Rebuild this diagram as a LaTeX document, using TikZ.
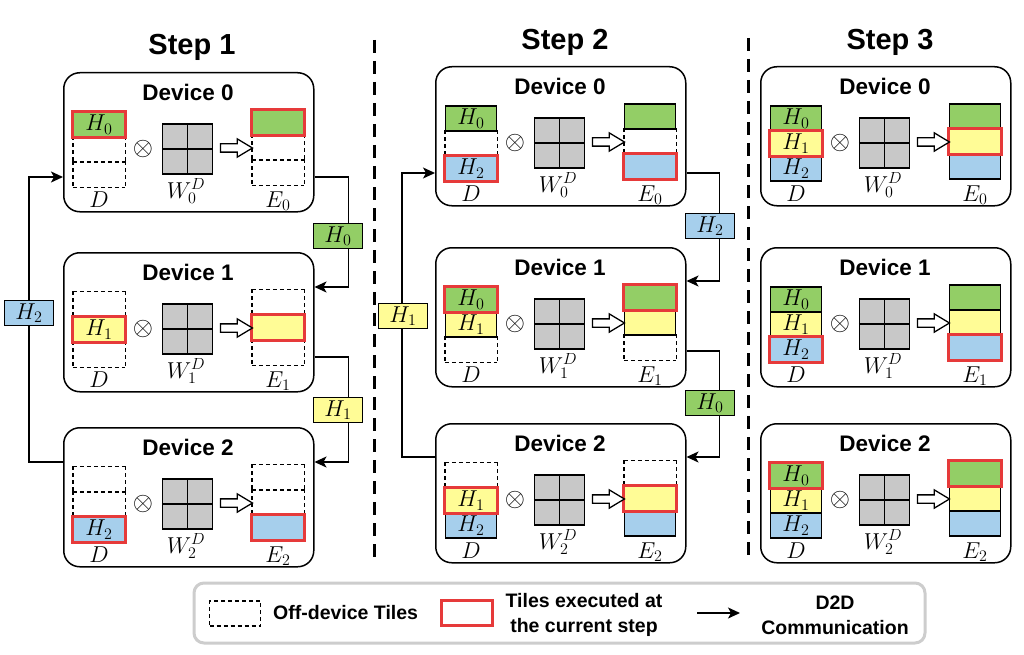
\RequirePackage{fix-cm}
\documentclass[tikz,border=0pt]{standalone}
\usepackage{fontspec}
\setsansfont{Liberation Sans}
\usepackage{xcolor}
\usepackage{tikz}
\usetikzlibrary{arrows.meta,shapes.arrows}

\definecolor{hgreen}{RGB}{147,206,102}
\definecolor{hyellow}{RGB}{255,252,150}
\definecolor{hblue}{RGB}{166,207,236}
\definecolor{hred}{RGB}{230,58,58}
\definecolor{wgray}{RGB}{200,200,200}
\definecolor{lgray}{RGB}{205,205,205}

\begin{document}
\begin{tikzpicture}[
			x = 1pt, y = -1pt,
			every node/.style = {inner sep = 0pt},
			steptitle/.style = {font = \sffamily\bfseries\fontsize{29}{34}\selectfont},
			devtitle/.style = {font = \sffamily\bfseries\fontsize{22.5}{26}\selectfont},
			device/.style = {draw, line width = 1.5pt, rounded corners = 16pt, minimum width = 250pt, minimum height = 139pt, anchor = north west},
			tile/.style = {draw, line width = 1.2pt, minimum width = 51pt, minimum height = 25pt, font = \fontsize{23}{26}\selectfont},
			tile-o/.style = {draw = none, fill = none, node contents = {}},
			tile-f/.style = {},
			tile-r/.style = {},
			edge-o/.style = {draw, line width = 1.2pt, dash pattern = on 4pt off 3pt},
			edge-f/.style = {},
			edge-r/.style = {},
			mark-o/.style = {},
			mark-f/.style = {},
			mark-r/.style = {draw = hred, line width = 3pt},
			wmat/.style = {draw, fill = wgray, line width = 1.5pt, minimum size = 50pt},
			fat/.style = {single arrow, draw, fill = white, line width = 1.3pt, inner sep = 3.5pt, minimum height = 32pt, single arrow head extend = 5pt, single arrow tip angle = 62},
			lab/.style = {font = \fontsize{23}{26}\selectfont, anchor = base},
			op/.style = {font = \fontsize{26}{30}\selectfont},
			link/.style = {line width = 1.4pt, -{Stealth[length = 12pt, width = 11pt, inset = 3pt]}},
			msg/.style = {draw, line width = 1.2pt, minimum width = 49pt, minimum height = 25pt, font = \fontsize{23}{26}\selectfont},
			sep/.style = {line width = 3pt, dash pattern = on 13pt off 8pt},
			legbox/.style = {draw = lgray, line width = 3pt, rounded corners = 10pt, minimum width = 731pt, minimum height = 60pt},
			leg/.style = {font = \sffamily\bfseries\fontsize{19.5}{25}\selectfont}
			]

			\useasboundingbox (0,0) rectangle (1024,655);

			% step titles and separators
			\node[steptitle] (st1) at (192,47) {Step 1};
			\node[steptitle] (st2) at (565,42) {Step 2};
			\node[steptitle] (st3) at (890,42) {Step 3};
			\draw[sep] (374,40) -- (374,563);
			\draw[sep] (748,38) -- (748,560);

			% devices: name/x/y/index/D tiles/E tiles (o = off, f = held, r = executed)
			\foreach \nm/\bx/\by/\k/\da/\db/\dc/\ea/\eb/\ec in {
					s1d0/63/72/0/r/o/o/r/o/o, s1d1/63/252/1/o/r/o/o/r/o, s1d2/63/427/2/o/o/r/o/o/r,
					s2d0/435/66/0/f/o/r/f/o/r, s2d1/435/247/1/r/f/o/r/f/o, s2d2/435/423/2/o/r/f/o/r/f,
					s3d0/760/66/0/f/r/f/f/r/f, s3d1/760/247/1/f/f/r/f/f/r, s3d2/760/423/2/r/f/f/r/f/f}
			{
				\node[device] (\nm) at (\bx,\by) {};
				\node[devtitle] (\nm-t) at (\bx+125,\by+20) {Device \k};

				\foreach \i/\s/\col in {0/\da/hgreen, 1/\db/hyellow, 2/\dc/hblue}
					\node (\nm-D\i) at (\bx+36,\by+52.5+25*\i) [tile, fill = \col, node contents = {$H_\i$}, tile-\s];
				\foreach \i/\s/\col in {0/\ea/hgreen, 1/\eb/hyellow, 2/\ec/hblue}
					\node (\nm-E\i) at (\bx+215,\by+50.5+25*\i) [tile, fill = \col, node contents = {}, tile-\s];
				% dashed edges of off-device tiles, all drawn in one direction
				\foreach \c/\i/\s in {D/0/\da, D/1/\db, D/2/\dc, E/0/\ea, E/1/\eb, E/2/\ec}
					\path[edge-\s] (\nm-\c\i.north west) -- (\nm-\c\i.north east)
						(\nm-\c\i.south west) -- (\nm-\c\i.south east)
						(\nm-\c\i.north west) -- (\nm-\c\i.south west)
						(\nm-\c\i.north east) -- (\nm-\c\i.south east);
				\foreach \c/\i/\s in {D/0/\da, D/1/\db, D/2/\dc, E/0/\ea, E/1/\eb, E/2/\ec}
					\path[mark-\s] (\nm-\c\i.south west) rectangle (\nm-\c\i.north east);

				\node[op] (\nm-x) at (\bx+80,\by+77) {$\otimes$};
				\node[wmat] (\nm-W) at (\bx+124.5,\by+77) {};
				\draw[line width = 1.5pt] (\nm-W.north) -- (\nm-W.south) (\nm-W.west) -- (\nm-W.east);
				\node[fat] (\nm-a) at (\bx+170,\by+76) {};

				\node[lab] (\nm-Dl) at (\bx+36,\by+135) {$D$};
				\node[lab] (\nm-Wl) at (\bx+123,\by+126) {$W_\k^D$};
				\node[lab] (\nm-El) at (\bx+215,\by+135) {$E_\k$};
			}

			% step 1 transfers
			\draw[link] ([yshift = -105pt]s1d0.north east) -- ++(34,0) |- ([yshift = -35pt]s1d1.north east);
			\draw[link] ([yshift = -105pt]s1d1.north east) -- ++(34,0) |- ([yshift = -35pt]s1d2.north east);
			\draw[link] ([yshift = -35pt]s1d2.north west) -- ++(-34,0) |- ([yshift = -105pt]s1d0.north west);
			\node[msg, fill = hgreen] (s1m0) at (338,236) {$H_0$};
			\node[msg, fill = hyellow] (s1m1) at (338,410) {$H_1$};
			\node[msg, fill = hblue] (s1m2) at (29,313) {$H_2$};

			% step 2 transfers
			\draw[link] ([yshift = -107pt]s2d0.north east) -- ++(33,0) |- ([yshift = -34pt]s2d1.north east);
			\draw[link] ([yshift = -104pt]s2d1.north east) -- ++(33,0) |- ([yshift = -34pt]s2d2.north east);
			\draw[link] ([yshift = -34pt]s2d2.north west) -- ++(-33,0) |- ([yshift = -107pt]s2d0.north west);
			\node[msg, fill = hblue] (s2m2) at (710,226) {$H_2$};
			\node[msg, fill = hgreen] (s2m0) at (710,403) {$H_0$};
			\node[msg, fill = hyellow] (s2m1) at (403,316) {$H_1$};

			% legend
			\node[legbox] (leg) at (559.5,613) {};
			\node[tile, dash pattern = on 4pt off 3pt] (leg-off) at (235,613.5) {};
			\node[leg, anchor = west] (leg-offt) at (273,613) {Off-device Tiles};
			\node[tile, draw = hred, line width = 3pt] (leg-red) at (466.5,613) {};
			\node[leg, align = center] (leg-redt) at (584,615) {Tiles executed at\\the current step};
			\coordinate (leg-a0) at (697,613);
			\coordinate (leg-a1) at (740,613);
			\draw[link] (leg-a0) -- (leg-a1);
			\node[leg, align = center] (leg-d2d) at (835,615) {D2D\\Communication};

		\end{tikzpicture}
\end{document}
